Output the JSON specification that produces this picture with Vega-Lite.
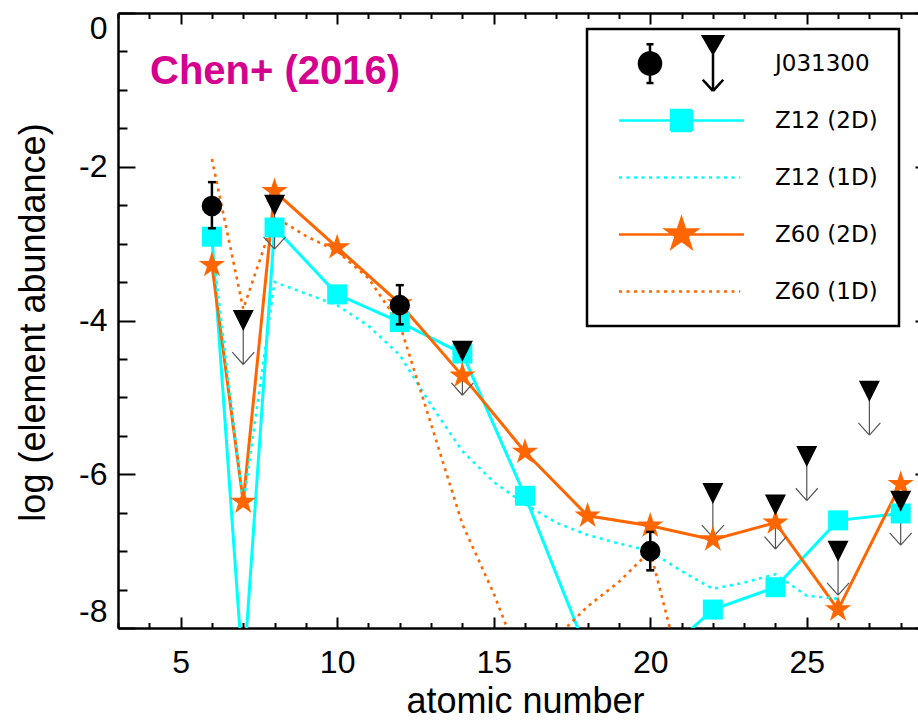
{
  "$schema": "https://vega.github.io/schema/vega-lite/v6.json",
  "width": 814,
  "height": 615,
  "autosize": {"type": "none"},
  "padding": {"left": 118, "top": 13, "right": -14, "bottom": 92},
  "background": "white",
  "config": {
    "view": {"stroke": null},
    "font": "Liberation Sans",
    "axis": {"domainColor": "black", "domainWidth": 2.5, "tickColor": "black", "tickWidth": 2, "grid": false, "labelFont": "Liberation Sans", "labelFontSize": 32, "labelColor": "black", "titleFont": "Liberation Sans", "titleFontSize": 36, "titleFontWeight": "normal", "titleColor": "black", "labelOverlap": false},
    "legend": {"strokeWidth": 2.5}
  },
  "title": {"text": "Chen+ (2016)", "anchor": "start", "frame": "group", "orient": "top", "offset": 0, "baseline": "alphabetic", "dx": 32, "dy": 112, "font": "Liberation Sans", "fontSize": 40, "fontWeight": "bold", "color": "#d6008f"},
  "datasets": {
    "models": [
      {"Z": 6, "v": -2.91, "s": "Z12 (2D)"}, {"Z": 7, "v": -8.65, "s": "Z12 (2D)"}, {"Z": 8, "v": -2.79, "s": "Z12 (2D)"}, {"Z": 10, "v": -3.66, "s": "Z12 (2D)"}, {"Z": 12, "v": -4.02, "s": "Z12 (2D)"}, {"Z": 14, "v": -4.43, "s": "Z12 (2D)"}, {"Z": 16, "v": -6.28, "s": "Z12 (2D)"}, {"Z": 18, "v": -8.32, "s": "Z12 (2D)"}, {"Z": 20, "v": -8.5, "s": "Z12 (2D)"}, {"Z": 22, "v": -7.76, "s": "Z12 (2D)"}, {"Z": 24, "v": -7.47, "s": "Z12 (2D)"}, {"Z": 26, "v": -6.6, "s": "Z12 (2D)"}, {"Z": 28, "v": -6.51, "s": "Z12 (2D)"},
      {"Z": 6, "v": -3.0, "s": "Z12 (1D)"}, {"Z": 7, "v": -6.4, "s": "Z12 (1D)"}, {"Z": 8, "v": -3.5, "s": "Z12 (1D)"}, {"Z": 9, "v": -3.65, "s": "Z12 (1D)"}, {"Z": 10, "v": -3.8, "s": "Z12 (1D)"}, {"Z": 11, "v": -4.07, "s": "Z12 (1D)"}, {"Z": 12, "v": -4.45, "s": "Z12 (1D)"}, {"Z": 13, "v": -5.1, "s": "Z12 (1D)"}, {"Z": 14, "v": -5.7, "s": "Z12 (1D)"}, {"Z": 15, "v": -6.1, "s": "Z12 (1D)"}, {"Z": 16, "v": -6.39, "s": "Z12 (1D)"}, {"Z": 17, "v": -6.63, "s": "Z12 (1D)"}, {"Z": 18, "v": -6.79, "s": "Z12 (1D)"}, {"Z": 19, "v": -6.9, "s": "Z12 (1D)"}, {"Z": 20, "v": -7.0, "s": "Z12 (1D)"}, {"Z": 21, "v": -7.26, "s": "Z12 (1D)"}, {"Z": 22, "v": -7.49, "s": "Z12 (1D)"}, {"Z": 23, "v": -7.41, "s": "Z12 (1D)"}, {"Z": 24, "v": -7.3, "s": "Z12 (1D)"}, {"Z": 25, "v": -7.58, "s": "Z12 (1D)"}, {"Z": 26, "v": -7.62, "s": "Z12 (1D)"},
      {"Z": 6, "v": -3.28, "s": "Z60 (2D)"}, {"Z": 7, "v": -6.36, "s": "Z60 (2D)"}, {"Z": 8, "v": -2.32, "s": "Z60 (2D)"}, {"Z": 10, "v": -3.05, "s": "Z60 (2D)"}, {"Z": 12, "v": -3.78, "s": "Z60 (2D)"}, {"Z": 14, "v": -4.72, "s": "Z60 (2D)"}, {"Z": 16, "v": -5.71, "s": "Z60 (2D)"}, {"Z": 18, "v": -6.54, "s": "Z60 (2D)"}, {"Z": 20, "v": -6.67, "s": "Z60 (2D)"}, {"Z": 22, "v": -6.85, "s": "Z60 (2D)"}, {"Z": 24, "v": -6.63, "s": "Z60 (2D)"}, {"Z": 26, "v": -7.76, "s": "Z60 (2D)"}, {"Z": 28, "v": -6.13, "s": "Z60 (2D)"},
      {"Z": 6, "v": -1.9, "s": "Z60 (1D)"}, {"Z": 7, "v": -3.85, "s": "Z60 (1D)"}, {"Z": 8, "v": -2.65, "s": "Z60 (1D)"}, {"Z": 9, "v": -2.9, "s": "Z60 (1D)"}, {"Z": 10, "v": -3.1, "s": "Z60 (1D)"}, {"Z": 11, "v": -3.45, "s": "Z60 (1D)"}, {"Z": 12, "v": -4.05, "s": "Z60 (1D)"}, {"Z": 13, "v": -5.35, "s": "Z60 (1D)"}, {"Z": 14, "v": -6.65, "s": "Z60 (1D)"}, {"Z": 15, "v": -7.55, "s": "Z60 (1D)"}, {"Z": 16, "v": -8.6, "s": "Z60 (1D)"}, {"Z": 17, "v": -8.12, "s": "Z60 (1D)"}, {"Z": 18, "v": -7.72, "s": "Z60 (1D)"}, {"Z": 19, "v": -7.4, "s": "Z60 (1D)"}, {"Z": 20, "v": -7.0, "s": "Z60 (1D)"}, {"Z": 21, "v": -8.6, "s": "Z60 (1D)"}
    ],
    "det": [
      {"Z": 6, "v": -2.51, "lo": -2.8, "hi": -2.2},
      {"Z": 12, "v": -3.8, "lo": -4.05, "hi": -3.54},
      {"Z": 20, "v": -7.0, "lo": -7.25, "hi": -6.75}
    ],
    "lim": [
      {"Z": 7, "v": -4.0}, {"Z": 8, "v": -2.5}, {"Z": 14, "v": -4.4}, {"Z": 22, "v": -6.25}, {"Z": 24, "v": -6.4}, {"Z": 25, "v": -5.77}, {"Z": 26, "v": -7.0}, {"Z": 27, "v": -4.92}, {"Z": 28, "v": -6.35}
    ]
  },
  "resolve": {"axis": {"x": "independent", "y": "independent"}},
  "layer": [
    {
      "layer": [
        {
          "data": {"name": "models"},
          "transform": [{"filter": "indexof(datum.s, '2D') >= 0"}],
          "mark": {"type": "line", "clip": true, "strokeWidth": 3},
          "encoding": {
            "x": {"field": "Z", "type": "quantitative", "scale": {"domain": [3, 29], "nice": false, "zero": false},
              "axis": {"orient": "bottom", "values": [5, 10, 15, 20, 25], "labelOverlap": false,
                "labelExpr": "'' + datum.value",
                "tickSize": -11, "labelPadding": 55, "labelBaseline": "alphabetic", "labelFlush": false,
                "title": "atomic number", "titleX": 407, "titleY": 84, "titleBaseline": "alphabetic", "titleAlign": "center"}},
            "y": {"field": "v", "type": "quantitative", "scale": {"domain": [-8, 0], "nice": false, "zero": false},
              "axis": {"orient": "left", "values": [-8, -6, -4, -2, 0],
                "labelExpr": "'' + datum.value", "labelOverlap": false,
                "tickSize": -17, "labelPadding": 28, "labelFlush": true,
                "title": "log (element abundance)", "titleX": -74, "titleY": 309, "titleAngle": 270, "titleBaseline": "alphabetic", "titleAlign": "center"}},
            "color": {"field": "s", "type": "nominal", "legend": null,
              "scale": {"domain": ["Z12 (2D)", "Z12 (1D)", "Z60 (2D)", "Z60 (1D)"], "range": ["#00ffff", "#00ffff", "#ff6600", "#ff6600"]}}
          }
        },
        {
          "data": {"name": "models"},
          "transform": [{"filter": "indexof(datum.s, '1D') >= 0"}],
          "mark": {"type": "line", "clip": true, "strokeWidth": 2.6, "strokeDash": [3, 4.5]},
          "encoding": {
            "x": {"field": "Z", "type": "quantitative", "scale": {"domain": [3, 29], "nice": false, "zero": false}},
            "y": {"field": "v", "type": "quantitative", "scale": {"domain": [-8, 0], "nice": false, "zero": false}},
            "color": {"field": "s", "type": "nominal", "legend": null,
              "scale": {"domain": ["Z12 (2D)", "Z12 (1D)", "Z60 (2D)", "Z60 (1D)"], "range": ["#00ffff", "#00ffff", "#ff6600", "#ff6600"]}}
          }
        },
        {
          "data": {"name": "lim"},
          "mark": {"type": "point", "shape": "M0,0L0,1M-0.25,0.72L0,1M0.25,0.72L0,1", "size": 7744, "filled": false, "stroke": "#555555", "strokeWidth": 1.2, "opacity": 1},
          "encoding": {
            "x": {"field": "Z", "type": "quantitative", "scale": {"domain": [3, 29], "nice": false, "zero": false}},
            "y": {"field": "v", "type": "quantitative", "scale": {"domain": [-8, 0], "nice": false, "zero": false}}
          }
        },
        {
          "data": {"name": "models"},
          "transform": [{"filter": "datum.s === 'Z12 (2D)'"}],
          "mark": {"type": "point", "shape": "square", "filled": true, "size": 400, "color": "#00ffff", "opacity": 1, "clip": true},
          "encoding": {
            "x": {"field": "Z", "type": "quantitative", "scale": {"domain": [3, 29], "nice": false, "zero": false}},
            "y": {"field": "v", "type": "quantitative", "scale": {"domain": [-8, 0], "nice": false, "zero": false}}
          }
        },
        {
          "data": {"name": "models"},
          "transform": [{"filter": "datum.s === 'Z60 (2D)'"}],
          "mark": {"type": "point", "shape": "M0,-1L0.2245,-0.309L0.9511,-0.309L0.3633,0.118L0.5878,0.809L0,0.382L-0.5878,0.809L-0.3633,0.118L-0.9511,-0.309L-0.2245,-0.309Z", "filled": true, "size": 760, "color": "#ff6600", "opacity": 1, "clip": true},
          "encoding": {
            "x": {"field": "Z", "type": "quantitative", "scale": {"domain": [3, 29], "nice": false, "zero": false}},
            "y": {"field": "v", "type": "quantitative", "scale": {"domain": [-8, 0], "nice": false, "zero": false}}
          }
        },
        {
          "data": {"name": "det"},
          "mark": {"type": "rule", "color": "black", "strokeWidth": 2.5},
          "encoding": {
            "x": {"field": "Z", "type": "quantitative", "scale": {"domain": [3, 29], "nice": false, "zero": false}},
            "y": {"field": "lo", "type": "quantitative", "scale": {"domain": [-8, 0], "nice": false, "zero": false}},
            "y2": {"field": "hi"}
          }
        },
        {
          "data": {"name": "det"},
          "mark": {"type": "tick", "orient": "horizontal", "size": 8, "thickness": 2.5, "color": "black", "opacity": 1},
          "encoding": {
            "x": {"field": "Z", "type": "quantitative", "scale": {"domain": [3, 29], "nice": false, "zero": false}},
            "y": {"field": "lo", "type": "quantitative", "scale": {"domain": [-8, 0], "nice": false, "zero": false}}
          }
        },
        {
          "data": {"name": "det"},
          "mark": {"type": "tick", "orient": "horizontal", "size": 8, "thickness": 2.5, "color": "black", "opacity": 1},
          "encoding": {
            "x": {"field": "Z", "type": "quantitative", "scale": {"domain": [3, 29], "nice": false, "zero": false}},
            "y": {"field": "hi", "type": "quantitative", "scale": {"domain": [-8, 0], "nice": false, "zero": false}}
          }
        },
        {
          "data": {"name": "det"},
          "mark": {"type": "point", "shape": "circle", "filled": true, "size": 420, "color": "black", "opacity": 1},
          "encoding": {
            "x": {"field": "Z", "type": "quantitative", "scale": {"domain": [3, 29], "nice": false, "zero": false}},
            "y": {"field": "v", "type": "quantitative", "scale": {"domain": [-8, 0], "nice": false, "zero": false}}
          }
        },
        {
          "data": {"name": "lim"},
          "mark": {"type": "point", "shape": "M-1,-1L1,-1L0,1Z", "filled": true, "size": 441, "color": "black", "opacity": 1},
          "encoding": {
            "x": {"field": "Z", "type": "quantitative", "scale": {"domain": [3, 29], "nice": false, "zero": false}},
            "y": {"field": "v", "type": "quantitative", "scale": {"domain": [-8, 0], "nice": false, "zero": false}}
          }
        }
      ]
    },
    {
      "data": {"name": "models"},
      "mark": {"type": "point", "size": 0, "strokeWidth": 0, "opacity": 1, "fillOpacity": 1, "strokeOpacity": 1},
      "encoding": {
        "x": {"field": "Z", "type": "quantitative", "scale": {"domain": [3, 29], "nice": false, "zero": false},
          "axis": {"orient": "bottom", "values": [3,4,6,7,8,9,11,12,13,14,16,17,18,19,21,22,23,24,26,27,28,29], "labels": false, "domain": false, "title": null, "tickSize": -5.5}},
        "y": {"field": "v", "type": "quantitative", "scale": {"domain": [-8, 0], "nice": false, "zero": false},
          "axis": {"orient": "left", "values": [-7.5,-7,-6.5,-5.5,-5,-4.5,-3.5,-3,-2.5,-1.5,-1,-0.5], "labels": false, "domain": false, "title": null, "tickSize": -9}},
        "fill": {"field": "s", "type": "nominal",
          "scale": {"domain": ["J031300", "Z12 (2D)", "Z12 (1D)", "Z60 (2D)", "Z60 (1D)"], "range": ["black", "#00ffff", "transparent", "#ff6600", "transparent"]},
          "legend": {"orient": "none", "legendX": 469, "legendY": 16, "title": "\u00a0", "titleOrient": "right", "titlePadding": 15, "titleFontSize": 11,
            "strokeColor": "black", "padding": 6, "fillColor": "white",
            "clipHeight": 57, "rowPadding": 0, "symbolSize": 15625, "symbolStrokeWidth": 2.5, "symbolOpacity": 1, "symbolOffset": 24.5, "labelOffset": 29.5,
            "labelFont": "DejaVu Sans", "labelFontSize": 23, "labelColor": "black"}},
        "stroke": {"field": "s", "type": "nominal",
          "scale": {"domain": ["J031300", "Z12 (2D)", "Z12 (1D)", "Z60 (2D)", "Z60 (1D)"], "range": ["black", "#00ffff", "#00ffff", "#ff6600", "#ff6600"]}},
        "shape": {"field": "s", "type": "nominal",
          "scale": {"domain": ["J031300", "Z12 (2D)", "Z12 (1D)", "Z60 (2D)", "Z60 (1D)"], "range": [
            "M-0.68,0A0.176,0.176,0,1,0,-0.328,0A0.176,0.176,0,1,0,-0.68,0ZM-0.504,-0.31L-0.504,0.31M-0.56,-0.31L-0.448,-0.31M-0.56,0.31L-0.448,0.31M0.328,-0.464L0.68,-0.464L0.504,-0.16ZM0.504,-0.16L0.504,0.44M0.34,0.26L0.504,0.44M0.668,0.26L0.504,0.44",
            "M-1,0L1,0M-0.168,-0.168L0.168,-0.168L0.168,0.168L-0.168,0.168Z",
            "M-1,0L0.94,0",
            "M-1,0L1,0M0,-0.26L0.058,-0.08L0.247,-0.08L0.095,0.031L0.153,0.21L0,0.099L-0.153,0.21L-0.095,0.031L-0.247,-0.08L-0.058,-0.08Z",
            "M-1,0L0.94,0"]}},
        "strokeDash": {"field": "s", "type": "nominal",
          "scale": {"domain": ["J031300", "Z12 (2D)", "Z12 (1D)", "Z60 (2D)", "Z60 (1D)"], "range": [[1, 0], [1, 0], [3, 4.5], [1, 0], [3, 4.5]]}}
      }
    },
    {
      "data": {"name": "models"},
      "mark": {"type": "point", "opacity": 0},
      "encoding": {
        "x": {"field": "Z", "type": "quantitative", "scale": {"domain": [3, 29], "nice": false, "zero": false},
          "axis": {"orient": "top", "values": [3,4,5,6,7,8,9,10,11,12,13,14,15,16,17,18,19,20,21,22,23,24,25,26,27,28,29], "labels": false, "title": null,
            "tickSize": {"condition": {"test": "datum.value % 5 === 0", "value": -11}, "value": -5.5}}},
        "y": {"field": "v", "type": "quantitative", "scale": {"domain": [-8, 0], "nice": false, "zero": false},
          "axis": {"orient": "right", "values": [-8,-7.5,-7,-6.5,-6,-5.5,-5,-4.5,-4,-3.5,-3,-2.5,-2,-1.5,-1,-0.5,0], "labels": false, "title": null,
            "tickSize": {"condition": {"test": "datum.value % 2 === 0", "value": -17}, "value": -9}}}
      }
    }
  ]
}
